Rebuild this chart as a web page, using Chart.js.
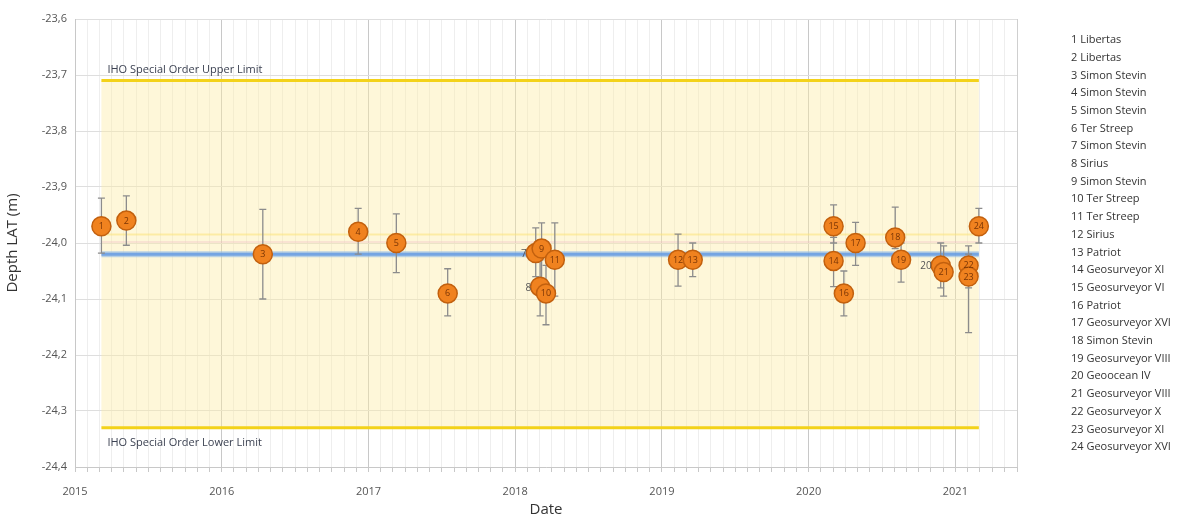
<!DOCTYPE html>
<html>
<head>
<meta charset="utf-8">
<title>Depth LAT per survey</title>
<script src="https://cdn.jsdelivr.net/npm/chart.js@4.4.1/dist/chart.umd.min.js"></script>
<style>
  html, body { margin: 0; padding: 0; background: #fff; }
  #wrap { width: 1192px; height: 520px; }
</style>
</head>
<body>
<div id="wrap"><canvas id="depthChart" width="1192" height="520"></canvas></div>
<script>
// ---- data ----
const surveyIds = [1, 2, 3, 4, 5, 6, 7, 8, 9, 10, 11, 12, 13, 14, 15, 16, 17, 18, 19, 20, 21, 22, 23, 24];
const vessels = [
    'Libertas', 'Libertas', 'Simon Stevin', 'Simon Stevin', 'Simon Stevin', 'Ter Streep',
    'Simon Stevin', 'Sirius', 'Simon Stevin', 'Ter Streep', 'Ter Streep', 'Sirius',
    'Patriot', 'Geosurveyor XI', 'Geosurveyor VI', 'Patriot', 'Geosurveyor XVI', 'Simon Stevin',
    'Geosurveyor VIII', 'Geoocean IV', 'Geosurveyor VIII', 'Geosurveyor X', 'Geosurveyor XI', 'Geosurveyor XVI'
];
// survey date as decimal year
const surveyDate = [
    2015.18, 2015.35, 2016.28, 2016.93, 2017.19, 2017.54,
    2018.14, 2018.17, 2018.18, 2018.21, 2018.27, 2019.11,
    2019.21, 2020.17, 2020.17, 2020.24, 2020.32, 2020.59,
    2020.63, 2020.90, 2020.92, 2021.09, 2021.09, 2021.16
];
const depth = [
    -23.970, -23.960, -24.020, -23.980, -24.000, -24.090,
    -24.018, -24.078, -24.010, -24.090, -24.030, -24.030,
    -24.030, -24.032, -23.970, -24.090, -24.000, -23.990,
    -24.030, -24.040, -24.052, -24.040, -24.060, -23.970
];
const depthHigh = [
    -23.920, -23.916, -23.940, -23.938, -23.948, -24.046,
    -23.973, -24.030, -23.964, -24.040, -23.964, -23.984,
    -24.000, -23.990, -23.932, -24.050, -23.963, -23.936,
    -24.000, -24.000, -24.005, -24.005, -24.020, -23.938
];
const depthLow = [
    -24.018, -24.004, -24.100, -24.020, -24.053, -24.130,
    -24.060, -24.130, -24.070, -24.146, -24.095, -24.077,
    -24.060, -24.078, -24.000, -24.130, -24.040, -24.010,
    -24.070, -24.080, -24.095, -24.080, -24.160, -24.000
];
const yearTicks = [2015, 2016, 2017, 2018, 2019, 2020, 2021];
const referenceDepth = -24.02;
const upperLimit = -23.71;
const lowerLimit = -24.33;
const upperLabel = 'IHO Special Order Upper Limit';
const lowerLabel = 'IHO Special Order Lower Limit';

// labels drawn beside the marker instead of inside
const outsideLabels = [7, 8, 20];
const FONT = "'Open Sans', 'DejaVu Sans', sans-serif";

const isYear = v => yearTicks.some(t => Math.abs(t - v) < 1e-6);

// band, limit lines, reference line and error bars
const ihoPlugin = {
    id: 'iho',
    beforeDatasetsDraw(chart) {
        const { ctx, scales: { x, y } } = chart;
        const x0 = x.getPixelForValue(Math.min(...surveyDate));
        const x1 = x.getPixelForValue(Math.max(...surveyDate));
        const yTop = y.getPixelForValue(upperLimit);
        const yBot = y.getPixelForValue(lowerLimit);
        ctx.save();

        ctx.fillStyle = 'rgba(252, 236, 165, 0.42)';
        ctx.fillRect(x0, yTop, x1 - x0, yBot - yTop);

        const hline = (val, color, width) => {
            const py = y.getPixelForValue(val);
            ctx.strokeStyle = color;
            ctx.lineWidth = width;
            ctx.beginPath();
            ctx.moveTo(x0, py);
            ctx.lineTo(x1, py);
            ctx.stroke();
        };
        hline(upperLimit, '#f3d21a', 3);
        hline(lowerLimit, '#f3d21a', 3);
        hline(referenceDepth + 0.035, 'rgba(250, 228, 120, 0.55)', 2);
        hline(referenceDepth + 0.022, 'rgba(240, 190, 200, 0.45)', 1.5);
        hline(referenceDepth, 'rgba(140, 185, 235, 0.6)', 6);
        hline(referenceDepth, 'rgba(95, 150, 225, 0.75)', 3);

        ctx.fillStyle = '#3c4252';
        ctx.font = '11px ' + FONT;
        ctx.textBaseline = 'middle';
        ctx.textAlign = 'left';
        ctx.fillText(upperLabel, x0 + 6, yTop - 11);
        ctx.fillText(lowerLabel, x0 + 6, yBot + 15);

        // error bars
        ctx.strokeStyle = '#8c8c8c';
        ctx.lineWidth = 1.3;
        surveyDate.forEach((d, i) => {
            const px = x.getPixelForValue(d);
            const pTop = y.getPixelForValue(depthHigh[i]);
            const pBot = y.getPixelForValue(depthLow[i]);
            ctx.beginPath();
            ctx.moveTo(px, pTop);
            ctx.lineTo(px, pBot);
            ctx.moveTo(px - 3.5, pTop);
            ctx.lineTo(px + 3.5, pTop);
            ctx.moveTo(px - 3.5, pBot);
            ctx.lineTo(px + 3.5, pBot);
            ctx.stroke();
        });
        ctx.restore();
    },
    afterDatasetsDraw(chart) {
        const { ctx, scales: { x, y } } = chart;
        ctx.save();
        ctx.textBaseline = 'middle';
        ctx.textAlign = 'center';
        surveyIds.forEach((id, i) => {
            const px = x.getPixelForValue(surveyDate[i]);
            const py = y.getPixelForValue(depth[i]);
            if (outsideLabels.includes(id)) {
                ctx.fillStyle = '#555';
                ctx.font = '10px ' + FONT;
                ctx.textAlign = 'right';
                ctx.fillText(String(id), px - 9, py + 1);
                ctx.textAlign = 'center';
            } else {
                ctx.fillStyle = '#7a3505';
                ctx.font = '9px ' + FONT;
                ctx.fillText(String(id), px, py + 0.5);
            }
        });
        ctx.restore();
    },
    afterDraw(chart) {
        const { ctx, chartArea } = chart;
        ctx.save();
        // right frame edge
        ctx.strokeStyle = '#cfcfcf';
        ctx.lineWidth = 1;
        ctx.beginPath();
        ctx.moveTo(chartArea.right + 0.5, chartArea.top);
        ctx.lineTo(chartArea.right + 0.5, chartArea.bottom);
        ctx.stroke();

        // vessel list
        ctx.fillStyle = '#333';
        ctx.font = '11px ' + FONT;
        ctx.textAlign = 'left';
        ctx.textBaseline = 'middle';
        surveyIds.forEach((id, i) => {
            ctx.fillText(id + ' ' + vessels[i], chartArea.right + 54, 40 + i * 17.7);
        });
        ctx.restore();
    }
};

new Chart(document.getElementById('depthChart'), {
    type: 'scatter',
    data: {
        datasets: [{
            label: 'Depth LAT',
            data: surveyDate.map((d, i) => ({ x: d, y: depth[i] })),
            pointRadius: 9.5,
            pointHoverRadius: 9.5,
            backgroundColor: '#f0821f',
            borderColor: '#c2600e',
            borderWidth: 1.5
        }]
    },
    options: {
        responsive: false,
        animation: false,
        events: [],
        layout: { padding: { top: 19, right: 175, left: 0, bottom: 0 } },
        plugins: {
            legend: { display: false },
            tooltip: { enabled: false }
        },
        scales: {
            x: {
                type: 'linear',
                min: 2015,
                max: 2021.42,
                afterFit: s => { s.height = 53; },
                ticks: {
                    stepSize: 1 / 12,
                    autoSkip: false,
                    maxRotation: 0,
                    padding: 13,
                    color: '#555',
                    font: { family: FONT, size: 11 },
                    callback: v => isYear(v) ? String(Math.round(v)) : ''
                },
                grid: {
                    color: c => isYear(c.tick.value) ? '#c8c8c8' : '#eeeeee',
                    tickColor: '#c8c8c8',
                    tickLength: 5
                },
                border: { color: '#c8c8c8' },
                title: {
                    display: true,
                    text: 'Date',
                    color: '#333',
                    font: { family: FONT, size: 15 },
                    padding: { top: 0, bottom: 1 }
                }
            },
            y: {
                min: -24.4,
                max: -23.6,
                afterFit: s => { s.width = 75; },
                ticks: {
                    stepSize: 0.1,
                    padding: 8,
                    color: '#555',
                    font: { family: FONT, size: 11 },
                    callback: v => v.toFixed(1).replace('.', ',')
                },
                grid: { color: '#dedede', drawTicks: false },
                border: { color: '#c8c8c8' },
                title: {
                    display: true,
                    text: 'Depth LAT (m)',
                    color: '#333',
                    font: { family: FONT, size: 15 },
                    padding: { top: 4, bottom: 4 }
                }
            }
        }
    },
    plugins: [ihoPlugin]
});
</script>
</body>
</html>
